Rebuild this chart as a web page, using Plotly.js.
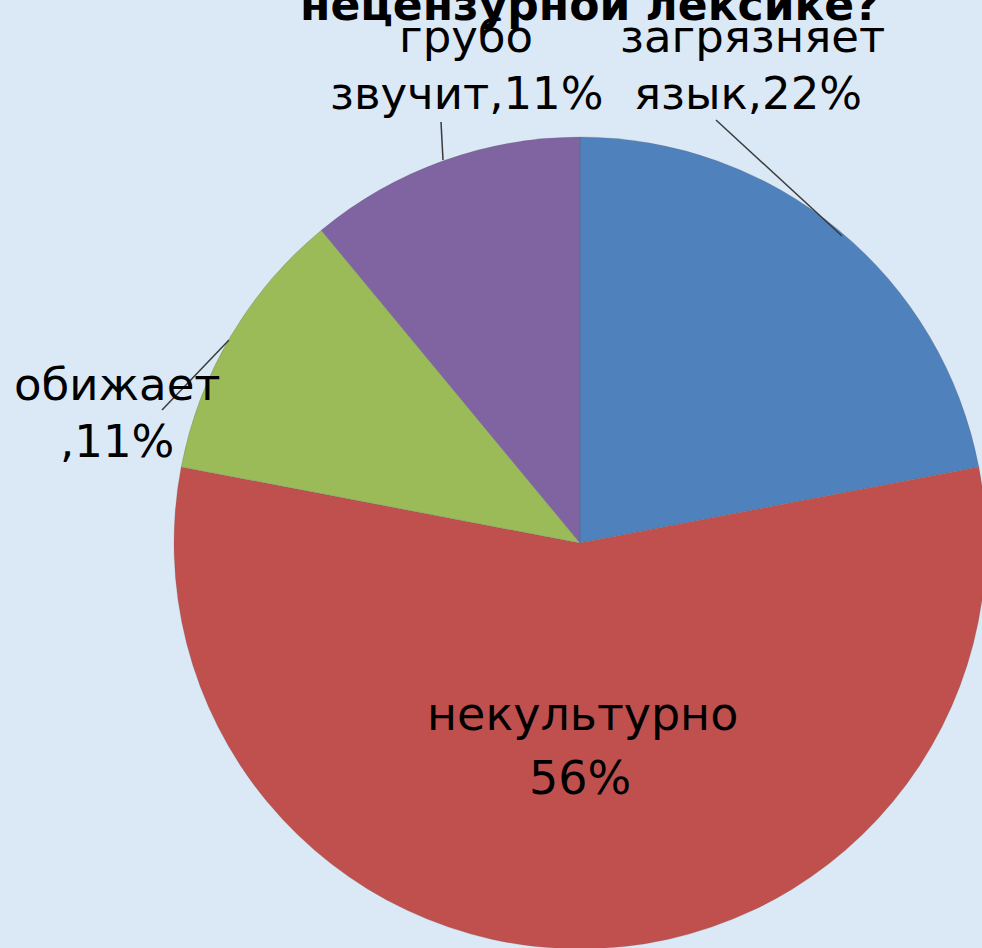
<!DOCTYPE html>
<html>
<head>
<meta charset="utf-8">
<script src="https://cdn.plot.ly/plotly-3.0.1.min.js"></script>
<style>
  html, body { margin: 0; padding: 0; overflow: hidden; background: #dbe8f5; }
  #chart { width: 1000px; height: 1000px; }
</style>
</head>
<body>
<div id="chart"></div>
<script>
// Data
const categories = ["загрязняет язык", "некультурно", "обижает", "грубо звучит"];
const values = [22, 56, 11, 11];
const colors = ["#4F81BD", "#C0504D", "#9BBB59", "#8064A2"];
const titleText = "нецензурной лексике?";

const W = 1000, H = 1000;
const px = x => x / W;
const py = y => 1 - y / H;

const FONT = "DejaVu Sans, Liberation Sans, Arial, sans-serif";

function lab(text, x, y, size, bold) {
  return {
    text: bold ? "<b>" + text + "</b>" : text,
    xref: "paper", yref: "paper",
    x: px(x), y: py(y),
    xanchor: "center", yanchor: "middle",
    showarrow: false,
    font: { family: FONT, size: size, color: "#000" }
  };
}

const fo = 45, fi = 46;
const annotations = [
  lab(titleText, 590, 4, 44, true),
  lab("грубо", 466, 36, fo),
  lab("звучит," + values[3] + "%", 466, 94, fo),
  lab("загрязняет", 752, 36, fo),
  lab("язык," + values[0] + "%", 748, 94, fo),
  lab("обижает", 117, 384, fo),
  lab("," + values[2] + "%", 117, 441, fo),
  lab("некультурно", 582, 714, fi),
  lab(values[1] + "%", 580, 778, fi)
];

function seg(x0, y0, x1, y1) {
  return { type: "line", xref: "paper", yref: "paper",
    x0: px(x0), y0: py(y0), x1: px(x1), y1: py(y1),
    line: { color: "#3a3a3a", width: 1.5 } };
}

const shapes = [
  seg(441, 122, 443, 160),
  seg(716, 120, 842, 236),
  seg(162, 410, 229, 340)
];

const cx = 580, cy = 543, r = 406;

Plotly.newPlot("chart", [{
  type: "pie",
  labels: categories,
  values: values,
  sort: false,
  direction: "clockwise",
  rotation: 0,
  textinfo: "none",
  hoverinfo: "label+percent",
  marker: { colors: colors, line: { color: "rgba(90,90,90,0.35)", width: 0.6 } },
  domain: { x: [px(cx - r), px(cx + r)], y: [py(cy + r), py(cy - r)] },
  showlegend: false
}], {
  width: W, height: H,
  margin: { l: 0, r: 0, t: 0, b: 0 },
  paper_bgcolor: "#dbe8f5",
  plot_bgcolor: "#dbe8f5",
  annotations: annotations,
  shapes: shapes
}, { staticPlot: true });
</script>
</body>
</html>
